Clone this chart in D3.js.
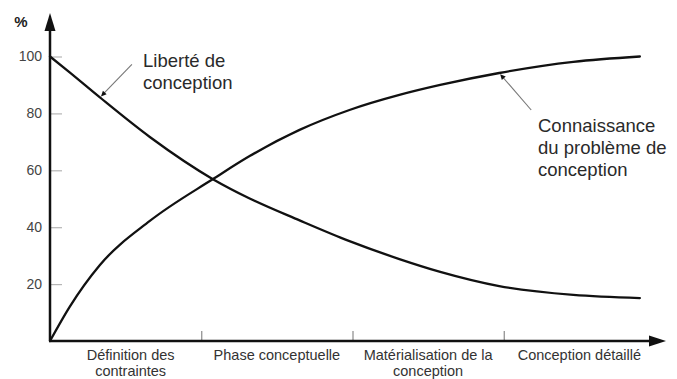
<!DOCTYPE html>
<html>
<head>
<meta charset="utf-8">
<script src="https://cdn.jsdelivr.net/npm/d3@7"></script>
<style>
  html, body { margin: 0; padding: 0; background: #fff; }
  svg { display: block; font-family: "Liberation Sans", Arial, Helvetica, sans-serif; }
</style>
</head>
<body>
<svg id="chart" width="677" height="379"></svg>
<script>
// Design phases shown under the horizontal axis (one entry per phase, split into lines)
const phases = [
  ["Définition des", "contraintes"],
  ["Phase conceptuelle"],
  ["Matérialisation de la", "conception"],
  ["Conception détaillé"]
];
// Position along the project, in phases (0 = start, 4 = end)
const progress = [0, 0.13, 0.33, 0.66, 1.08, 1.32, 1.65, 1.98, 2.31, 2.58, 2.97, 3.46, 3.9];
// Design freedom (%)
const liberte = [100, 94.4, 85.6, 71.7, 56.8, 50.1, 42.4, 35.1, 28.8, 24.3, 19.3, 16.2, 15.1];
// Knowledge of the design problem (%)
const connaissance = [0, 12, 26.7, 42.2, 57, 65, 74.2, 81.2, 86.5, 90, 94.2, 98.1, 100];
// Vertical axis ticks
const yTicks = [20, 40, 60, 80, 100];
const phaseBounds = [1, 2, 3];

const svg = d3.select("#chart");
const x = d3.scaleLinear().domain([0, 4]).range([50, 655]);
const y = d3.scaleLinear().domain([0, 100]).range([341, 56.5]);
const x0 = x(0), yBase = y(0);

// Y ticks (to the right of the axis) and labels
const yAxis = d3.axisLeft(y).tickValues(yTicks).tickSize(-12).tickPadding(8);
const gy = svg.append("g").attr("transform", `translate(${x0},0)`).call(yAxis);
gy.select(".domain").remove();
gy.selectAll(".tick line").attr("stroke", "#b5b5b5").attr("stroke-width", 1.2);
gy.selectAll(".tick text").attr("fill", "#444").style("font-size", "14px")
  .style("font-family", "'Liberation Sans', Arial, sans-serif");

// X ticks marking phase boundaries
const xAxis = d3.axisBottom(x).tickValues(phaseBounds).tickSize(-10).tickFormat("");
const gx = svg.append("g").attr("transform", `translate(0,${yBase})`).call(xAxis);
gx.select(".domain").remove();
gx.selectAll(".tick line").attr("stroke", "#8a8a8a").attr("stroke-width", 1.2);

// Axis lines with arrow heads
svg.append("line").attr("x1", x0).attr("y1", yBase).attr("x2", x0).attr("y2", 26)
  .attr("stroke", "#111").attr("stroke-width", 2.5);
svg.append("path").attr("d", `M${x0},13 L${x0 - 5.5},31 L${x0 + 5.5},31 Z`).attr("fill", "#111");
svg.append("line").attr("x1", x0 - 1).attr("y1", yBase).attr("x2", 655).attr("y2", yBase)
  .attr("stroke", "#111").attr("stroke-width", 2.5);
svg.append("path").attr("d", `M666,${yBase} L649,${yBase - 5.5} L649,${yBase + 5.5} Z`).attr("fill", "#111");

svg.append("text").attr("x", 21).attr("y", 27).attr("text-anchor", "middle")
  .attr("fill", "#222").style("font-size", "15px").style("font-weight", "bold").text("%");

// Curves
const line = d3.line().x(d => x(d[0])).y(d => y(d[1])).curve(d3.curveMonotoneX);
[liberte, connaissance].forEach(vals => {
  svg.append("path")
    .datum(progress.map((p, i) => [p, vals[i]]))
    .attr("d", line)
    .attr("fill", "none")
    .attr("stroke", "#111")
    .attr("stroke-width", 2.3)
    .attr("stroke-linecap", "round");
});

// Phase labels below the axis
phases.forEach((lines, i) => {
  const t = svg.append("text").attr("text-anchor", "middle").attr("fill", "#333")
    .style("font-size", "14.5px");
  lines.forEach((s, j) => {
    t.append("tspan").attr("x", x(i + 0.5) + (i === 0 ? 5 : 0)).attr("y", 360 + j * 15.5).text(s);
  });
});

// Curve annotations with leader arrows
function annotate(series, idx, dx, dy, tx, ty, lines) {
  const px = x(progress[idx]), py = y(series[idx]);
  const ang = Math.atan2(dy, dx);
  const sx = px + dx, sy = py + dy;
  svg.append("line").attr("x1", sx).attr("y1", sy)
    .attr("x2", px + Math.cos(ang) * 6).attr("y2", py + Math.sin(ang) * 6)
    .attr("stroke", "#777").attr("stroke-width", 1.1);
  const a = 7, w = 2.6;
  const bx = px + Math.cos(ang) * a, by = py + Math.sin(ang) * a;
  const nx = -Math.sin(ang) * w, ny = Math.cos(ang) * w;
  svg.append("path")
    .attr("d", `M${px + Math.cos(ang) * 1.5},${py + Math.sin(ang) * 1.5} L${bx + nx},${by + ny} L${bx - nx},${by - ny} Z`)
    .attr("fill", "#111");
  const t = svg.append("text").attr("fill", "#2a2a2a").style("font-size", "18.5px");
  lines.forEach((s, j) => t.append("tspan").attr("x", tx).attr("y", ty + j * 22).text(s));
}
annotate(liberte, 2, 32, -33, 143, 67, ["Liberté de", "conception"]);
annotate(connaissance, 10, 32, 37, 538, 132, ["Connaissance", "du problème de", "conception"]);
</script>
</body>
</html>
